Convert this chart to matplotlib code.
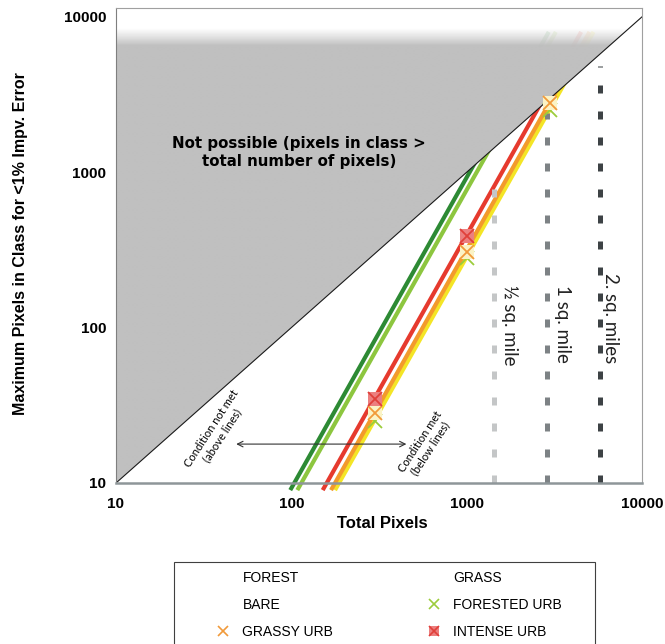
import numpy as np
import matplotlib
matplotlib.use("Agg")
import matplotlib.pyplot as plt
from matplotlib.patches import Polygon, Rectangle
from matplotlib.lines import Line2D
from matplotlib.legend_handler import HandlerTuple
from matplotlib.ticker import NullLocator

plt.rcParams['font.family'] = ['Liberation Sans', 'DejaVu Sans']

# ---------------- data ----------------
axis_ticks = [10, 100, 1000, 10000]
tick_labels = ['10', '100', '1000', '10000']
x_limits = [10, 10000]
y_limits = [10, 11400]

# threshold lines per class (start / end points, straight on log-log)
forest_x = [98.6, 2939];   forest_y = [9.0, 8000]
grass_x = [108.2, 3225];   grass_y = [9.0, 8000]
intense_x = [151.0, 4499]; intense_y = [9.0, 8000]
grassy_x = [168.4, 5020];  grassy_y = [9.0, 8000]
bare_x = [177.5, 5292];    bare_y = [9.0, 8000]

# sample points
marker_x = [300, 1000, 3000]
forested_urb_y = [25.0, 280, 2520]
grassy_urb_y = [28.3, 307, 2800]
intense_urb_x = [300, 1000]
intense_urb_y = [34.5, 389]

# area reference lines
area_x = [1440, 2880, 5760]
area_top = [890, 2400, 4800]
area_labels = ['½ sq. mile', '1 sq. mile', '2. sq. miles']
area_label_y = [104, 106, 115]
area_label_x = [1763, 3530, 6650]

arrow_x = [48.5, 453]
arrow_y = 17.8

legend_labels = ['FOREST', 'BARE', 'GRASSY URB', 'GRASS', 'FORESTED URB', 'INTENSE URB']

# ---------------- figure ----------------
fig = plt.figure(figsize=(6.65, 6.44), dpi=100)
ax = fig.add_axes([116/665, 1-483/644, (642-116)/665, (483-8)/644])
ax.set_xscale('log')
ax.set_yscale('log')
ax.set_xlim(x_limits)
ax.set_ylim(y_limits)

# class lines
lw = 3.0
ax.plot(forest_x, forest_y, color='#2d8a34', lw=lw, zorder=2, clip_on=False, solid_capstyle='butt')
ax.plot(grass_x, grass_y, color='#8dc63f', lw=lw, zorder=2, clip_on=False, solid_capstyle='butt')
ax.plot(intense_x, intense_y, color='#e63a2e', lw=lw, zorder=2, clip_on=False, solid_capstyle='butt')
ax.plot(grassy_x, grassy_y, color='#f39a2c', lw=lw, zorder=2.1, clip_on=False, solid_capstyle='butt')
ax.plot(bare_x, bare_y, color='#f4e526', lw=lw, zorder=2.05, clip_on=False, solid_capstyle='butt')

# impossible region (above y = x), gray with fade to white at the top
poly = Polygon([(x_limits[0], y_limits[0]), (x_limits[0], y_limits[1]),
                (x_limits[1], y_limits[1]), (x_limits[1], x_limits[1])],
               closed=True, transform=ax.transData)
n = 400
f = np.linspace(0, 1, n)
t = np.clip((f - 0.922) / (0.958 - 0.922), 0, 1)
gray = 192 / 255
grad = np.zeros((n, 1, 4))
col = gray * (1 - t) + 1.0 * t
grad[:, 0, 0] = col
grad[:, 0, 1] = col
grad[:, 0, 2] = col
grad[:, 0, 3] = 1 - 0.12 * t
im = ax.imshow(grad, extent=[0, 1, 0, 1], transform=ax.transAxes, origin='lower',
               aspect='auto', interpolation='bilinear', zorder=3)
im.set_clip_path(poly)

# diagonal
ax.plot(x_limits, x_limits, color='#1a1a1a', lw=0.8, zorder=4)

# area dashed lines
area_colors = ['#c4c6c7', '#7d8285', '#3d4245']
for xv, top, c in zip(area_x, area_top, area_colors):
    ax.plot([xv, xv], [y_limits[0], top], color=c, lw=3.6,
            linestyle=(0, (1.6, 3.6)), dash_capstyle='butt', zorder=2.5)
for xv, yv, lab in zip(area_label_x, area_label_y, area_labels):
    ax.text(xv, yv, lab, rotation=270, ha='center', va='center', fontsize=13.5,
            family=['Lato', 'DejaVu Sans'], color='#222222', zorder=6)

# markers
ax.plot(marker_x, forested_urb_y, linestyle='none', marker='x', ms=10, mew=1.3,
        color='#9ccc3c', zorder=5)
ax.plot(marker_x, grassy_urb_y, linestyle='none', marker='s', ms=10.5, mew=0,
        color='#fbf3c6', zorder=6)
ax.plot(marker_x, grassy_urb_y, linestyle='none', marker='x', ms=10, mew=1.3,
        color='#f19a3a', zorder=7)
ax.plot(intense_urb_x, intense_urb_y, linestyle='none', marker='s', ms=10.5, mew=0,
        color='#ec7f7f', zorder=6)
ax.plot(intense_urb_x, intense_urb_y, linestyle='none', marker='x', ms=10, mew=1.3,
        color='#e0403a', zorder=7)

# annotations
ax.text(111, 1343, 'Not possible (pixels in class >\ntotal number of pixels)',
        ha='center', va='center', multialignment='center', fontsize=10.8,
        fontweight='bold', family=['DejaVu Sans'], linespacing=1.2, zorder=8)
ax.annotate('', xy=(arrow_x[0], arrow_y), xytext=(arrow_x[1], arrow_y),
            arrowprops=dict(arrowstyle='<->', color='#333333', lw=0.8,
                            shrinkA=0, shrinkB=0), zorder=8)
ax.text(37.4, 21.3, 'Condition not met\n(above lines)', rotation=57,
        rotation_mode='anchor', ha='center', va='center', multialignment='center',
        fontsize=8, family=['Lato', 'DejaVu Sans'], zorder=8)
ax.text(581, 17.6, 'Condition met\n(below lines)', rotation=57,
        rotation_mode='anchor', ha='center', va='center', multialignment='center',
        fontsize=8, family=['Lato', 'DejaVu Sans'], zorder=8)

# axes styling
ax.xaxis.set_minor_locator(NullLocator())
ax.yaxis.set_minor_locator(NullLocator())
ax.set_xticks(axis_ticks)
ax.set_xticklabels(tick_labels)
ax.set_yticks(axis_ticks)
ax.set_yticklabels(tick_labels)
ax.tick_params(axis='both', length=0, labelsize=11)
ax.tick_params(axis='x', pad=10)
ax.tick_params(axis='y', pad=7)
for lbl in ax.get_xticklabels() + ax.get_yticklabels():
    lbl.set_fontweight('bold')
ax.spines['left'].set_color('#7f7f7f'); ax.spines['left'].set_linewidth(0.8)
ax.spines['bottom'].set_color('#8e9699'); ax.spines['bottom'].set_linewidth(1.8)
ax.spines['top'].set_color('#a0a0a0'); ax.spines['top'].set_linewidth(0.8)
ax.spines['right'].set_color('#a0a0a0'); ax.spines['right'].set_linewidth(0.8)
for sp in ax.spines.values():
    sp.set_zorder(9)

fig.text(382/665, 1-524/644, 'Total Pixels', ha='center', va='center',
         fontsize=12, fontweight='bold')
fig.text(20.5/665, 1-244/644, 'Maximum Pixels in Class for <1% Impv. Error',
         rotation=90, ha='center', va='center', fontsize=11.5, fontweight='bold')

# legend
h_forest = Line2D([], [], linestyle='none')
h_grass = Line2D([], [], linestyle='none')
h_bare = Line2D([], [], linestyle='none')
h_forurb = Line2D([], [], linestyle='none', marker='x', ms=7, mew=1.2, color='#9ccc3c')
h_grassyurb = Line2D([], [], linestyle='none', marker='x', ms=7, mew=1.2, color='#f19a3a')
h_int_sq = Line2D([], [], linestyle='none', marker='s', ms=7.5, mew=0, color='#ec7f7f')
h_int_x = Line2D([], [], linestyle='none', marker='x', ms=7, mew=1.2, color='#e0403a')
handles = [h_forest, h_bare, h_grassyurb, h_grass, h_forurb, (h_int_sq, h_int_x)]
leg = ax.legend(handles, legend_labels, ncol=2, loc='upper left',
                bbox_to_anchor=(214.7/665, 1-571/644 - 0.1, (562-214.7)/665, 0.1),
                bbox_transform=fig.transFigure, mode='expand', frameon=False,
                borderpad=0, borderaxespad=0, handlelength=1.2, handletextpad=0.8,
                labelspacing=0.94, fontsize=10,
                handler_map={tuple: HandlerTuple(ndivide=1)})
fig.add_artist(Rectangle((174/665, -0.1), 421/665, 0.1 + (1-562/644),
                         transform=fig.transFigure, facecolor='none',
                         edgecolor='#404040', lw=0.8))

fig.savefig('out.png', dpi=100)
